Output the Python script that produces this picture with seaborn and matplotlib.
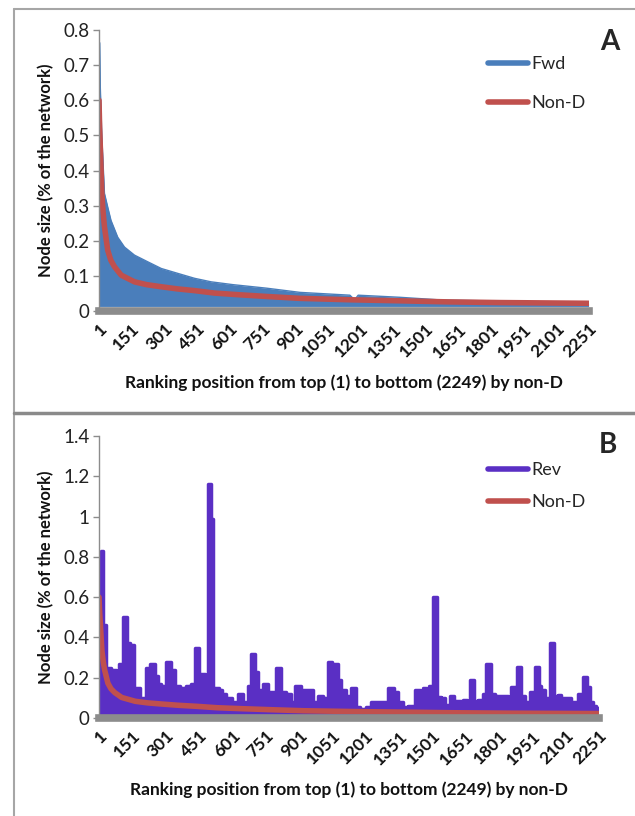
import numpy as np
import matplotlib
matplotlib.use("Agg")
import matplotlib.pyplot as plt
import seaborn as sns
from matplotlib.lines import Line2D

# Non-D ranking curve (shared by both panels)
nond_pos = [1, 4, 8, 14, 20, 26, 41, 55, 72, 103, 164, 220, 287, 360, 440, 532,
            650, 780, 923, 1150, 1383, 1600, 1843, 2050, 2249]
nond_val = [0.60, 0.52, 0.45, 0.335, 0.28, 0.24, 0.173, 0.145, 0.126, 0.102, 0.083,
            0.075, 0.069, 0.063, 0.058, 0.051, 0.046, 0.041, 0.036, 0.032, 0.029,
            0.026, 0.024, 0.023, 0.022]

# Fwd: upper edge of the dense band
fwd_pos = [1, 4, 7, 14, 19, 26, 41, 56, 87, 118, 164, 225, 287, 363, 440, 516, 616,
           770, 924, 1153, 1168, 1180, 1191, 1383, 1582, 1781, 1888, 1951, 2249]
fwd_top = [0.764, 0.764, 0.636, 0.494, 0.43, 0.335, 0.296, 0.258, 0.21, 0.182, 0.159,
           0.14, 0.121, 0.107, 0.093, 0.083, 0.075, 0.065, 0.053, 0.045, 0.036, 0.036,
           0.045, 0.039, 0.031, 0.029, 0.027, 0.022, 0.021]
fwd_floor = 0.013

# Rev: step levels (start position, value)
rev_pos = [1, 8, 18, 34, 56, 79, 90, 109, 127, 139, 159, 184, 214, 229, 252, 267, 282,
           304, 327, 342, 364, 394, 409, 417, 432, 450, 459, 480, 493, 504, 513, 522,
           540, 555, 574, 582, 600, 627, 649, 672, 687, 702, 717, 739, 762, 799, 821,
           844, 866, 881, 911, 941, 964, 986, 1009, 1031, 1051, 1057, 1076, 1091, 1114,
           1136, 1159, 1174, 1204, 1226, 1249, 1301, 1327, 1346, 1369, 1391, 1421, 1444,
           1459, 1474, 1486, 1504, 1524, 1542, 1557, 1579, 1599, 1609, 1632, 1639, 1659,
           1669, 1689, 1707, 1729, 1744, 1764, 1782, 1804, 1819, 1842, 1857, 1875, 1884,
           1902, 1917, 1939, 1962, 1980, 1992, 2007, 2029, 2047, 2067, 2082, 2104, 2127,
           2157, 2179, 2199, 2209, 2224, 2239, 2251]
rev_val = [0.62, 0.83, 0.46, 0.25, 0.24, 0.17, 0.27, 0.50, 0.37, 0.36, 0.15, 0.10, 0.25,
           0.27, 0.21, 0.17, 0.16, 0.28, 0.24, 0.16, 0.15, 0.16, 0.14, 0.17, 0.35, 0.19,
           0.22, 0.09, 1.16, 0.99, 0.09, 0.15, 0.14, 0.12, 0.08, 0.10, 0.08, 0.12, 0.08,
           0.16, 0.32, 0.23, 0.14, 0.17, 0.13, 0.25, 0.13, 0.12, 0.08, 0.16, 0.14, 0.14,
           0.08, 0.11, 0.10, 0.28, 0.12, 0.27, 0.19, 0.14, 0.11, 0.15, 0.055, 0.045, 0.055,
           0.08, 0.08, 0.15, 0.13, 0.08, 0.055, 0.06, 0.14, 0.13, 0.15, 0.11, 0.16, 0.60,
           0.105, 0.10, 0.063, 0.11, 0.065, 0.085, 0.065, 0.09, 0.07, 0.19, 0.085, 0.09,
           0.12, 0.27, 0.12, 0.11, 0.11, 0.11, 0.07, 0.155, 0.11, 0.255, 0.11, 0.08, 0.13,
           0.255, 0.16, 0.14, 0.10, 0.37, 0.11, 0.115, 0.10, 0.10, 0.08, 0.12, 0.205,
           0.155, 0.08, 0.06, 0.05, 0.05]
rev_floor = 0.01

xtick_pos = list(range(1, 2252, 150))
xlabel = "Ranking position from top (1) to bottom (2249) by non-D"
ylabel = "Node size (% of the network)"

BLUE = "#4a7ebb"
RED = "#c0504d"
PURPLE = "#5a2fc4"
GRAY = "#8c8c8c"

sns.set_style("white")
plt.rcParams["font.family"] = ["Lato", "DejaVu Sans"]

fig = plt.figure(figsize=(6.35, 8.16), dpi=100)
axA = fig.add_axes([99 / 635, 1 - 311 / 816, 490 / 635, 281 / 816])
axB = fig.add_axes([99 / 635, 1 - 718 / 816, 500 / 635, 282 / 816])


def style_axis(ax, ymax, ystep):
    ax.set_xlim(1, 2251)
    ax.set_ylim(0, ymax)
    yt = np.round(np.arange(0, ymax + 1e-9, ystep), 2)
    ax.set_yticks(yt)
    ax.set_yticklabels([("%g" % v) for v in yt], fontsize=13.5, color="#222222")
    ax.set_xticks(xtick_pos)
    ax.set_xticklabels([str(p) for p in xtick_pos], rotation=45, ha="right",
                       rotation_mode="anchor", fontsize=12.5, fontweight="bold",
                       color="#111111")
    ax.tick_params(axis="x", length=0, pad=7)
    ax.tick_params(axis="y", length=4, width=1, color=GRAY, direction="out",
                   left=True, pad=3)
    for s in ["top", "right"]:
        ax.spines[s].set_visible(False)
    ax.spines["left"].set_color(GRAY)
    ax.spines["left"].set_linewidth(1)
    ax.spines["bottom"].set_color(GRAY)
    ax.spines["bottom"].set_linewidth(5.5)
    ax.set_xlabel(xlabel, fontsize=12.5, fontweight="bold", color="#111111", labelpad=10)
    ax.set_ylabel(ylabel, fontsize=12, fontweight="bold", color="#111111", labelpad=6)


# Panel A
axA.fill_between(fwd_pos, fwd_floor, fwd_top, color=BLUE, lw=0)
sns.lineplot(x=fwd_pos, y=fwd_top, ax=axA, color=BLUE, lw=1, label="Fwd")
sns.lineplot(x=nond_pos, y=nond_val, ax=axA, color=RED, lw=4, label="Non-D")
style_axis(axA, 0.8, 0.1)
legA = axA.legend(loc="upper left", bbox_to_anchor=(0.775, 0.94), frameon=False,
                  fontsize=13, handlelength=2.2, handletextpad=0.2, labelspacing=1.3,
                  borderpad=0)
for ln in legA.get_lines():
    ln.set_linewidth(4)
fig.text(610 / 635, 1 - 42 / 816, "A", fontsize=20, fontweight="bold",
         ha="center", va="center")

# Panel B
axB.fill_between(rev_pos, rev_floor, rev_val, step="post", color=PURPLE, lw=0)
sns.lineplot(x=rev_pos, y=rev_val, ax=axB, color=PURPLE, lw=2.5,
             drawstyle="steps-post", solid_joinstyle="round", solid_capstyle="round",
             label="Rev")
sns.lineplot(x=nond_pos, y=nond_val, ax=axB, color=RED, lw=4, label="Non-D")
style_axis(axB, 1.4, 0.2)
legB = axB.legend(loc="upper left", bbox_to_anchor=(0.76, 0.94), frameon=False,
                  fontsize=13, handlelength=2.2, handletextpad=0.2, labelspacing=0.9,
                  borderpad=0)
for ln in legB.get_lines():
    ln.set_linewidth(4)
fig.text(608 / 635, 1 - 445 / 816, "B", fontsize=20, fontweight="bold",
         ha="center", va="center")

# outer frame lines
fig.add_artist(Line2D([14 / 635, 14 / 635], [0, 1 - 9 / 816], color="#a6a6a6", lw=1.5))
fig.add_artist(Line2D([14 / 635, 1], [1 - 9 / 816, 1 - 9 / 816], color="#a6a6a6", lw=1.5))
fig.add_artist(Line2D([14 / 635, 1], [1 - 413 / 816, 1 - 413 / 816], color="#8a8a8a", lw=2.5))

fig.savefig("out.png", dpi=100)
